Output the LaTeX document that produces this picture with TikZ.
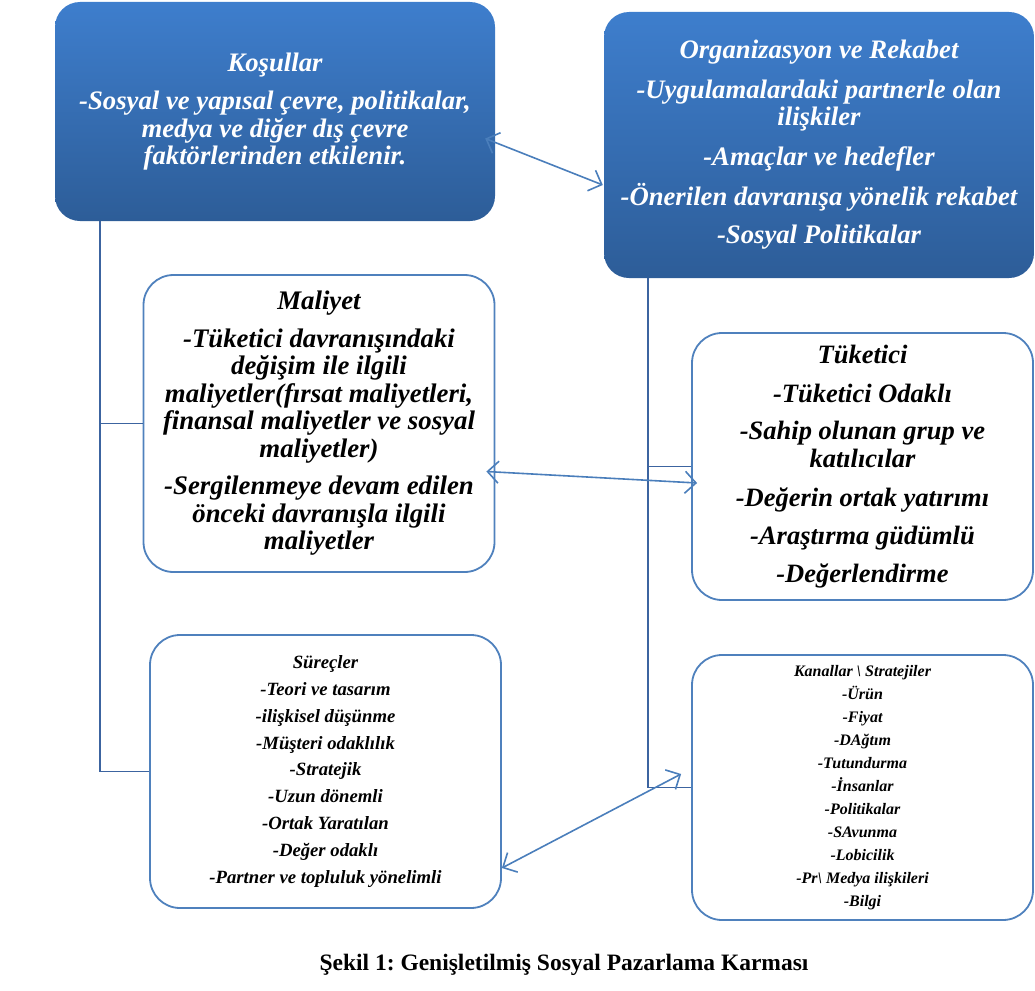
\documentclass[tikz,border=0pt]{standalone}
\usepackage{fontspec}
\setmainfont{Liberation Serif}
\usetikzlibrary{arrows.meta,calc}
\definecolor{topblue}{RGB}{62,126,205}
\definecolor{botblue}{RGB}{45,93,152}
\definecolor{edgeblue}{RGB}{79,129,189}
\definecolor{linedark}{RGB}{60,100,160}
\definecolor{arrowblue}{RGB}{74,126,187}
\frenchspacing
\begin{document}
\begin{tikzpicture}[x=1pt,y=-1pt,
  bluebox/.style={rectangle, rounded corners=25pt, top color=topblue, bottom color=botblue,
    draw=none, text=white, align=center, inner sep=0pt,
    font=\bfseries\itshape\fontsize{26.7}{27.5}\selectfont},
  whitebox/.style={rectangle, rounded corners=30pt, draw=edgeblue, line width=1.8pt,
    fill=white, text=black, align=center, inner sep=0pt},
  elbow/.style={draw=linedark, line width=1.6pt},
  dbl/.style={draw=arrowblue, line width=1.6pt,
    {Straight Barb[length=11pt,width=22pt]}-{Straight Barb[length=11pt,width=22pt]}}]
\useasboundingbox (0,0) rectangle (1035,990);

\node[bluebox, minimum width=440pt, minimum height=219pt] (A) at (275,111.5)
  {Koşullar\\[11pt]-Sosyal ve yapısal çevre, politikalar,\\medya ve diğer dış çevre\\faktörlerinden etkilenir.};
\node[bluebox, minimum width=430pt, minimum height=266pt] (B) at (819,145)
  {Organizasyon ve Rekabet\\[12pt]-Uygulamalardaki partnerle olan\\ilişkiler\\[12pt]-Amaçlar ve hedefler\\[11pt]-Önerilen davranışa yönelik rekabet\\[11pt]-Sosyal Politikalar};
\node[whitebox, minimum width=351pt, minimum height=297pt,
  font=\bfseries\itshape\fontsize{26.8}{27.5}\selectfont] (C) at (319,423.5)
  {Maliyet\\[10pt]-Tüketici davranışındaki\\değişim ile ilgili\\maliyetler(fırsat maliyetleri,\\finansal maliyetler ve sosyal\\maliyetler)\\[10pt]-Sergilenmeye devam edilen\\önceki davranışla ilgili\\maliyetler};
\node[whitebox, minimum width=341pt, minimum height=267pt,
  font=\bfseries\itshape\fontsize{26.5}{28}\selectfont] (D) at (862.5,466.5)
  {Tüketici\\[11pt]-Tüketici Odaklı\\[9pt]-Sahip olunan grup ve\\katılıcılar\\[11pt]-Değerin ortak yatırımı\\[10pt]-Araştırma güdümlü\\[10pt]-Değerlendirme};
\node[whitebox, minimum width=351pt, minimum height=273pt,
  font=\bfseries\itshape\fontsize{18.7}{26.8}\selectfont] (E) at (325.5,771.5)
  {Süreçler\\-Teori ve tasarım\\-ilişkisel düşünme\\-Müşteri odaklılık\\-Stratejik\\-Uzun dönemli\\-Ortak Yaratılan\\-Değer odaklı\\-Partner ve topluluk yönelimli};
\node[whitebox, minimum width=341pt, minimum height=265pt,
  font=\bfseries\itshape\fontsize{16}{23}\selectfont] (F) at (862.5,787.5)
  {Kanallar \textbackslash{} Stratejiler\\-Ürün\\-Fiyat\\-DAğtım\\-Tutundurma\\-İnsanlar\\-Politikalar\\-SAvunma\\-Lobicilik\\-Pr\textbackslash{} Medya ilişkileri\\-Bilgi};

\coordinate (lx) at (100,0);
\coordinate (rx) at (648,0);
\draw[elbow] (lx |- A.south) -- (lx |- E.west) -- (E.west);
\draw[elbow] (lx |- C.west) -- (C.west);
\draw[elbow] (rx |- B.south) -- (rx |- F.west) -- (F.west);
\draw[elbow] (rx |- D.west) -- (D.west);

\draw[dbl] ($(A.east)+(-10,27)$) -- ($(B.west)+(-1,40)$);
\draw[dbl] ($(C.east)+(-9,48)$) -- ($(D.west)+(6,16.5)$);
\draw[dbl] ($(E.east)+(0,96.5)$) -- ($(F.west)+(-10,-13.5)$);

\node[font=\bfseries\fontsize{23.5}{27}\selectfont] (cap) at (564,965)
  {Şekil 1: Genişletilmiş Sosyal Pazarlama Karması};
\end{tikzpicture}
\end{document}
